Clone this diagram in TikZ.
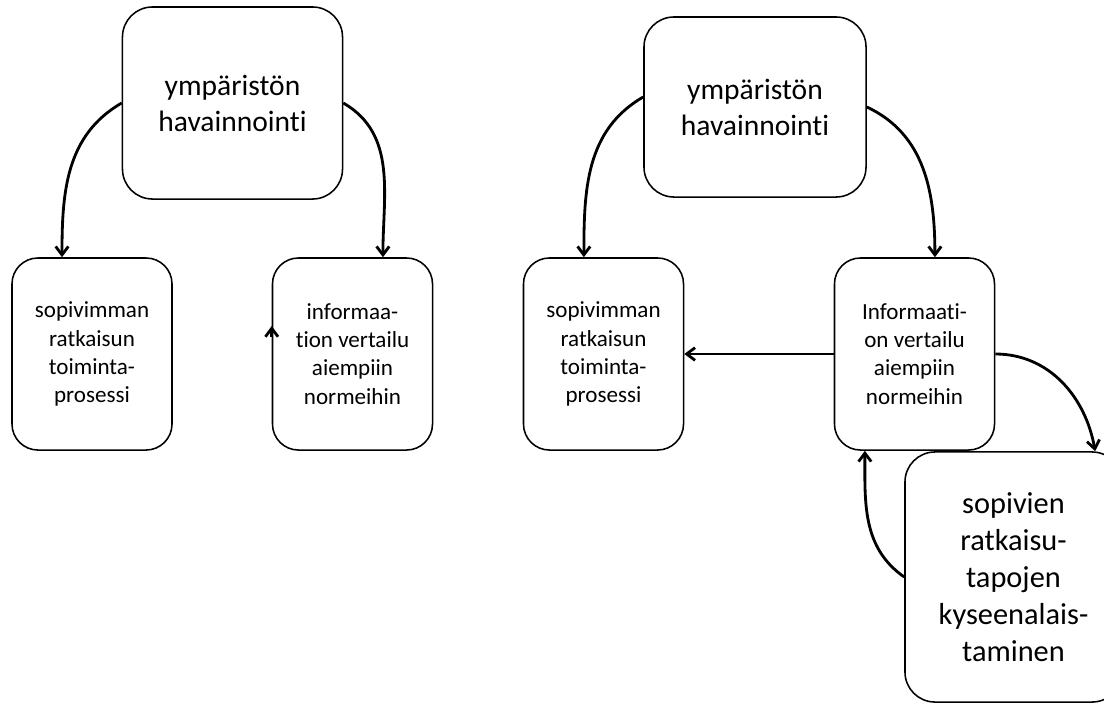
\documentclass[tikz,border=0pt]{standalone}
\usepackage{fontspec}
\setmainfont[Ligatures=NoCommon]{Carlito}
\usetikzlibrary{arrows.meta}

\begin{document}
\begin{tikzpicture}[x=0.025cm,y=-0.025cm,
	box/.style={draw,line width=1.1pt,rounded corners=0.65cm,align=center,
		minimum width=4cm,minimum height=4.8cm,inner sep=0pt,
		font=\fontsize{16.4}{20}\selectfont},
	bigbox/.style={box,rounded corners=0.75cm,font=\fontsize{21}{25.6}\selectfont},
	conn/.style={line width=2pt,-{Straight Barb[length=6pt,width=9pt]}}]
	\useasboundingbox (0,0) rectangle (1104,704);
	\node[bigbox,minimum width=5.5cm] (envL) at (232.5,103) {ympäristön\\havainnointi};
	\node[box] (toimL) at (92,354) {sopivimman\\ratkaisun\\toiminta-\\prosessi};
	\node[box] (infoL) at (352.5,354) {informaa-\\tion vertailu\\aiempiin\\normeihin};
	\node[bigbox,minimum width=5.55cm,minimum height=4.5cm] (envR) at (755,107) {ympäristön\\havainnointi};
	\node[box] (toimR) at (603.5,354) {sopivimman\\ratkaisun\\toiminta-\\prosessi};
	\node[box] (infoR) at (914.5,354) {Informaati-\\on vertailu\\aiempiin\\normeihin};
	\node[bigbox,minimum width=5.425cm,minimum height=6.25cm,font=\fontsize{21.6}{26.3}\selectfont] (kys) at (1013.5,577) {sopivien\\ratkaisu-\\tapojen\\kyseenalais-\\taminen};
	\draw[conn] (envL.west) to[out=210,in=90] ([xshift=-0.75cm]toimL.north);
	\draw[conn] (envL.east) to[out=-30,in=90] ([xshift=0.76cm]infoL.north);
	\draw[conn] ([yshift=0.425cm]infoL.west) -- ([yshift=0.7cm]infoL.west);
	\draw[conn] ([yshift=0.25cm]envR.west) to[out=210,in=90] ([xshift=-0.49cm]toimR.north);
	\draw[conn] (envR.east) to[out=-25,in=90] ([xshift=0.51cm]infoR.north);
	\draw[conn] (infoR.west) -- (toimR.east);
	\draw[conn] (infoR.east) to[out=0,in=100] ([xshift=2.04cm]kys.north);
	\draw[conn] (kys.west) to[out=145,in=-90] ([xshift=-1.24cm]infoR.south);
\end{tikzpicture}
\end{document}
